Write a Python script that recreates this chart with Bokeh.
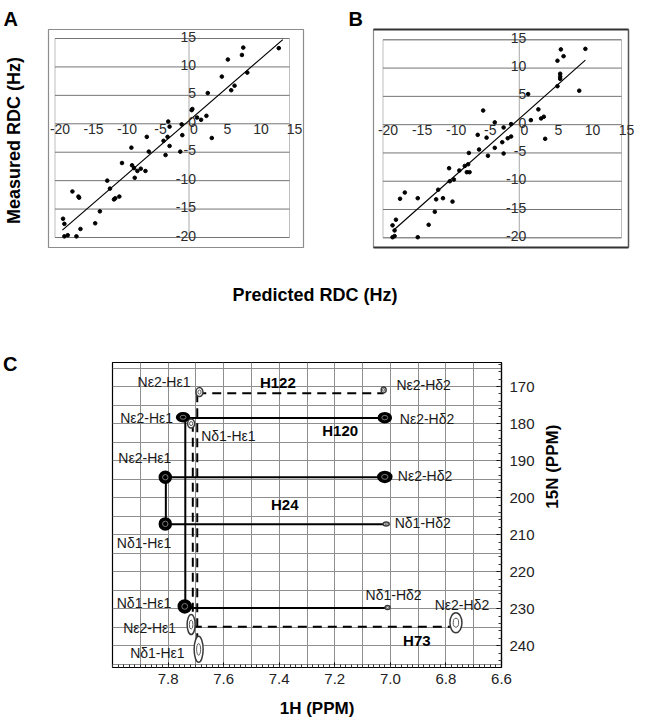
import math
import numpy as np
from bokeh.plotting import figure
from bokeh.layouts import column, row
from bokeh.models import (Range1d, FixedTicker, SingleIntervalTicker, LinearAxis,
                          NumeralTickFormatter, ColumnDataSource)
from bokeh.core.properties import value
from bokeh.embed import file_html
from bokeh.resources import INLINE

FONT = "Liberation Sans"

# ---------------- data: panel A (predicted vs measured RDC, Hz) ----------------
a_predicted = [13.4, 8.1, 7.9, 5.8, 8.7, 4.9, 6.8, 6.3, 2.8, 0.5,
               0.4, 1.2, 1.8, 2.6, 3.4, -1.1, -3.1, -2.9, -1.0, -1.3,
               -3.2, -3.8, -2.9, -3.5, -6.3, -6.0, -8.6, -8.5, -8.2, -7.7,
               -7.2, -6.5, -8.1, -10.0, -12.2, -11.8, -11.2, -11.0, -10.4, -13.3,
               -17.4, -16.5, -16.4, -14.0, -16.2, -18.8, -18.6, -18.6, -18.1, -16.8]
a_measured = [13.3, 13.4, 12.1, 11.3, 9.0, 8.3, 6.7, 5.9, 5.4, 2.6,
              2.4, 1.1, 0.7, 1.4, -2.5, -0.1, 0.4, -0.5, -2.0, -4.9,
              -2.3, -3.0, -3.9, -5.5, -2.3, -4.9, -4.2, -7.3, -7.8, -8.3,
              -7.9, -8.3, -9.5, -6.9, -10.0, -11.4, -13.3, -13.1, -12.8, -15.4,
              -11.9, -12.8, -13.0, -17.5, -18.5, -16.7, -17.6, -19.8, -19.6, -19.8]
a_fit_x = [-18.9, 14.0]
a_fit_y = [-18.7, 14.8]

# ---------------- data: panel B ----------------
b_predicted = [9.7, 6.1, 6.5, 5.6, 6.0, 6.0, 6.0, 5.6, 8.8, 1.3,
               2.8, 1.7, 3.2, 3.6, 3.8, -1.2, -2.3, -5.3, -3.6, -4.8,
               -6.1, -1.7, -1.2, -2.5, -3.6, -4.6, -2.3, -5.9, -7.4, -7.5,
               -8.0, -8.8, -7.7, -7.3, -10.3, -9.6, -10.2, -9.8, -11.2, -11.9,
               -12.2, -12.4, -13.3, -14.9, -14.9, -16.8, -17.5, -18.1, -18.6, -18.3,
               -18.6, -18.3]
b_measured = [13.4, 13.3, 12.1, 11.3, 9.0, 8.5, 8.1, 6.8, 6.0, 5.4,
              2.7, 0.8, 1.1, 1.4, -2.5, 0.1, -0.5, 2.5, 0.4, -2.3,
              -1.8, -2.4, -2.1, -3.1, -4.1, -5.5, -5.1, -4.4, -5.0, -7.0,
              -7.3, -8.1, -8.4, -8.4, -7.7, -9.7, -10.0, -13.6, -13.0, -11.5,
              -13.2, -15.4, -17.7, -13.0, -19.9, -12.0, -13.1, -16.8, -17.8, -18.7,
              -19.9, -19.7]
b_fit_x = [-18.5, 9.7]
b_fit_y = [-18.7, 11.4]

rdc_ticks = [-20, -15, -10, -5, 0, 5, 10, 15]
RDC_MIN, RDC_MAX = -20, 15

# ---------------- data: panel C (1H-15N spectrum of histidine side chains) ----------------
residues = ["H122", "H120", "H24", "H73"]
h_eps1 = [7.695, 7.738, 7.808, 7.711]
h_del2 = [7.024, 7.015, 7.020, 6.780]
n_eps2 = [171.8, 178.5, 194.5, 234.9]
n_del1 = [240.0, 229.8, 207.2, 180.0]
nd1_hd2_row = [False, True, True, False]
residue_dashed = [True, False, False, True]

peak_h = [7.687, 7.024, 7.690, 7.746, 7.020, 7.740, 7.010,
          7.810, 7.020, 7.810, 7.015, 7.717, 7.717, 6.764]
peak_n = [171.5, 170.9, 241.0, 178.3, 178.4, 229.4, 229.7,
          194.5, 194.4, 207.1, 207.1, 180.0, 234.3, 233.8]
peak_label = ["Nε2-Hε1", "Nε2-Hδ2", "Nδ1-Hε1", "Nε2-Hε1", "Nε2-Hδ2", "Nδ1-Hε1", "Nδ1-Hδ2",
              "Nε2-Hε1", "Nε2-Hδ2", "Nδ1-Hε1", "Nδ1-Hδ2", "Nδ1-Hε1", "Nε2-Hε1", "Nε2-Hδ2"]
peak_strong = [False, False, False, True, True, True, False,
               True, True, True, False, False, False, False]

h_ticks = [7.8, 7.6, 7.4, 7.2, 7.0, 6.8, 6.6]
n_ticks = [170, 180, 190, 200, 210, 220, 230, 240]
H_MIN, H_MAX = 6.6, 8.0
N_MIN, N_MAX = 163.5, 245.9

# ---------------- styles (pixel geometry / placement) ----------------
peak_w = [7, 5, 9, 13, 13, 13, 5, 12, 14, 12, 6, 7, 8, 12]
peak_hgt = [9, 6, 26, 9, 10, 13, 4, 12, 11, 12, 4, 9, 20, 20]
lab_dx = [-9, 12.7, -14, -10, 15, -13.5, 6, 6, 13, 6, 8.5, 10, -15, 6]
lab_dy = [-10, -4.5, 3.5, 1, 1, -3.5, -13, -19, -1, 19.5, -0.5, 12, 3, -18]
lab_align = ["right", "left", "right", "right", "left", "right", "center",
             "right", "left", "right", "left", "left", "right", "center"]
res_dx = [-12.6, 54.4, 9.4, 94.7]
res_dy = [-11, 12.3, 27, 13.8]
# where the panel-C titles sit along their axes
C_LETTER_AT = 164.0
N_TITLE_AT = 203.0
H_TITLE_AT = 7.264


def bare(p):
    p.grid.visible = False
    p.outline_line_color = None
    p.background_fill_color = "white"
    p.border_fill_color = "white"
    return p


def rdc_panel(letter, pred, meas, fx, fy, area, inset, letter_px, dark_box, ylabel):
    W, H = 328, 284
    L, R, T, B = area
    sx = (R - L) / (RDC_MAX - RDC_MIN)
    sy = (B - T) / (RDC_MAX - RDC_MIN)
    x0 = RDC_MIN - L / sx
    y1 = RDC_MAX + T / sy
    p = figure(width=W, height=H, x_range=Range1d(x0, x0 + W / sx),
               y_range=Range1d(y1 - H / sy, y1),
               x_axis_location=None, y_axis_location=None,
               toolbar_location=None, output_backend="svg", min_border=0)
    bare(p)
    X = lambda px: x0 + px / sx
    Y = lambda py: y1 - py / sy
    il, ir, it, ib = inset
    bl, br, bt, bb = X(L - il), X(R + ir), Y(T - it), Y(B + ib)
    p.quad(left=[bl], right=[br], top=[bt], bottom=[bb],
           fill_color="white", line_color="#8c8c8c", line_width=1.2)
    if dark_box:
        p.segment(x0=[bl, bl], x1=[br, br], y0=[bt, bb], y1=[bt, bb],
                  line_color="#333333", line_width=2.2)
        p.segment(x0=[br], x1=[br], y0=[bt], y1=[bb], line_color="#555555", line_width=1.4)
    p.quad(left=[RDC_MIN], right=[RDC_MAX], top=[RDC_MAX], bottom=[RDC_MIN],
           fill_color=None, line_color="#bdbdbd", line_width=1)
    n = len(rdc_ticks)
    p.segment(x0=[RDC_MIN] * n, x1=[RDC_MAX] * n, y0=rdc_ticks, y1=rdc_ticks,
              line_color="#747474", line_width=1)
    p.segment(x0=[0], x1=[0], y0=[RDC_MIN], y1=[RDC_MAX], line_color="#a8a8a8", line_width=1)
    p.scatter(pred, meas, size=3.6, marker="circle", color="black")
    p.line(fx, fy, line_color="black", line_width=1.2)
    labels = [str(t) for t in rdc_ticks]
    p.text(x=rdc_ticks, y=[0] * n, text=labels, text_align="center", text_baseline="middle",
           x_offset=5, y_offset=5, text_font=value(FONT), text_font_size="14px",
           text_color="#2b2b2b")
    p.text(x=[0] * n, y=rdc_ticks, text=labels, text_align="right", text_baseline="middle",
           x_offset=7, y_offset=-2, text_font=value(FONT), text_font_size="14px",
           text_color="#2b2b2b")
    p.text(x=[X(letter_px[0])], y=[Y(letter_px[1])], text=[letter], text_align="left",
           text_baseline="alphabetic", text_font=value(FONT), text_font_size="20px",
           text_font_style="bold", text_color="black")
    if ylabel:
        p.text(x=[X(13.5)], y=[Y((T + B) / 2 + 2.5)], text=[ylabel], angle=math.pi / 2,
               text_align="center", text_baseline="middle", text_font=value(FONT),
               text_font_size="18px", text_font_style="bold", text_color="black")
    return p


pA = rdc_panel("A", a_predicted, a_measured, a_fit_x, a_fit_y,
               area=(54.5, 289, 38, 237), inset=(6.5, 14, 9, 10),
               letter_px=(3, 18), dark_box=False, ylabel="Measured RDC (Hz)")
pB = rdc_panel("B", b_predicted, b_measured, b_fit_x, b_fit_y,
               area=(54.5, 293, 39.3, 237.3), inset=(9.5, 7, 10.3, 9.7),
               letter_px=(20, 18), dark_box=True, ylabel=None)

# shared x-axis title of A and B
pLab = figure(width=656, height=34, x_range=Range1d(0, 656), y_range=Range1d(0, 34),
              x_axis_location=None, y_axis_location=None, toolbar_location=None,
              output_backend="svg", min_border=0)
bare(pLab)
pLab.text(x=[341.5], y=[34 - 10], text=["Predicted RDC (Hz)"], text_align="center",
          text_baseline="middle", text_font=value(FONT), text_font_size="18px",
          text_font_style="bold", text_color="black")

# ---------------- panel C ----------------
pC = figure(width=656, height=402, x_range=Range1d(H_MAX, H_MIN), y_range=Range1d(N_MAX, N_MIN),
            y_axis_location="right", toolbar_location=None, output_backend="svg",
            min_border_left=109, min_border_right=155, min_border_top=44, min_border_bottom=52)
pC.outline_line_color = "black"
pC.outline_line_width = 1.2
pC.background_fill_color = "white"
pC.border_fill_color = "white"
pC.xgrid.ticker = SingleIntervalTicker(interval=0.1)
pC.ygrid.ticker = SingleIntervalTicker(interval=5)
pC.grid.grid_line_color = "#8e8e8e"
pC.grid.grid_line_width = 1

h_minor = np.round(np.arange(6.6, 8.0001, 0.02), 2).tolist()
n_minor = list(range(164, 247, 2))
pC.xaxis.ticker = FixedTicker(ticks=h_ticks, minor_ticks=h_minor)
pC.yaxis.ticker = FixedTicker(ticks=n_ticks, minor_ticks=n_minor)
pC.xaxis.formatter = NumeralTickFormatter(format="0.0")
for ax in (pC.xaxis, pC.yaxis):
    ax.axis_line_color = "black"
    ax.axis_line_width = 1.2
    ax.major_tick_in = 5
    ax.major_tick_out = 0
    ax.minor_tick_in = 3
    ax.minor_tick_out = 0
    ax.major_tick_line_color = "black"
    ax.minor_tick_line_color = "#333333"
    ax.major_label_text_font = FONT
    ax.major_label_text_font_size = "15px"
    ax.major_label_text_color = "#222222"
pC.xaxis.major_label_standoff = 6
pC.yaxis.major_label_standoff = 8


def title_axis(at, text, size, standoff, orientation="horizontal"):
    ax = LinearAxis(ticker=FixedTicker(ticks=[at]), major_label_overrides={at: text})
    ax.axis_line_color = None
    ax.major_tick_line_color = None
    ax.minor_tick_line_color = None
    ax.major_label_standoff = standoff
    ax.major_label_orientation = orientation
    ax.major_label_text_font = FONT
    ax.major_label_text_font_size = size
    ax.major_label_text_font_style = "bold"
    ax.major_label_text_color = "black"
    return ax


pC.add_layout(title_axis(C_LETTER_AT, "C", "20px", 89), "left")
pC.add_layout(title_axis(H_TITLE_AT, "1H (PPM)", "17px", 6), "below")
pC.add_layout(title_axis(N_TITLE_AT, "15N (PPM)", "17px", 9, math.pi / 2), "right")

# connecting lines of each histidine
for dashed in (False, True):
    sx0, sx1, sy0, sy1 = [], [], [], []
    for i in range(len(residues)):
        if residue_dashed[i] != dashed:
            continue
        rows = [n_eps2[i]] + ([n_del1[i]] if nd1_hd2_row[i] else [])
        for nv in rows:
            sx0.append(h_eps1[i]); sx1.append(h_del2[i]); sy0.append(nv); sy1.append(nv)
        sx0.append(h_eps1[i]); sx1.append(h_eps1[i]); sy0.append(n_eps2[i]); sy1.append(n_del1[i])
    pC.segment(x0=sx0, x1=sx1, y0=sy0, y1=sy1, line_color="black", line_width=2,
               line_dash="9 6" if dashed else "solid")

# peaks as contour-like ellipses
src = ColumnDataSource(dict(
    x=peak_h, y=peak_n,
    w=peak_w, h=peak_hgt,
    wi=[w * 0.45 for w in peak_w], hi=[h * 0.45 for h in peak_hgt],
    fill=["black" if s else "white" for s in peak_strong],
    line=["black" if s else "#3a3a3a" for s in peak_strong],
    inner=["#7a7a7a" if s else "#5a5a5a" for s in peak_strong],
))
pC.ellipse(x="x", y="y", width="w", height="h", width_units="screen", height_units="screen",
           fill_color="fill", line_color="line", line_width=1.5, source=src)
pC.ellipse(x="x", y="y", width="wi", height="hi", width_units="screen", height_units="screen",
           fill_color=None, line_color="inner", line_width=1, source=src)

for al in ("left", "right", "center"):
    idx = [i for i, a in enumerate(lab_align) if a == al]
    pC.text(x=[peak_h[i] for i in idx], y=[peak_n[i] for i in idx],
            text=[peak_label[i] for i in idx],
            x_offset=[lab_dx[i] for i in idx], y_offset=[lab_dy[i] for i in idx],
            text_align=al, text_baseline="middle", text_font=value(FONT),
            text_font_size="14px", text_color="#1a1a1a")

res_x = [(a + b) / 2 for a, b in zip(h_eps1, h_del2)]
pC.text(x=res_x, y=n_eps2, text=residues, x_offset=res_dx, y_offset=res_dy,
        text_align="center", text_baseline="middle", text_font=value(FONT),
        text_font_size="15px", text_font_style="bold", text_color="black")

layout = column(row(pA, pB), pLab, pC)

open("out.html", "w").write(file_html(layout, INLINE))
